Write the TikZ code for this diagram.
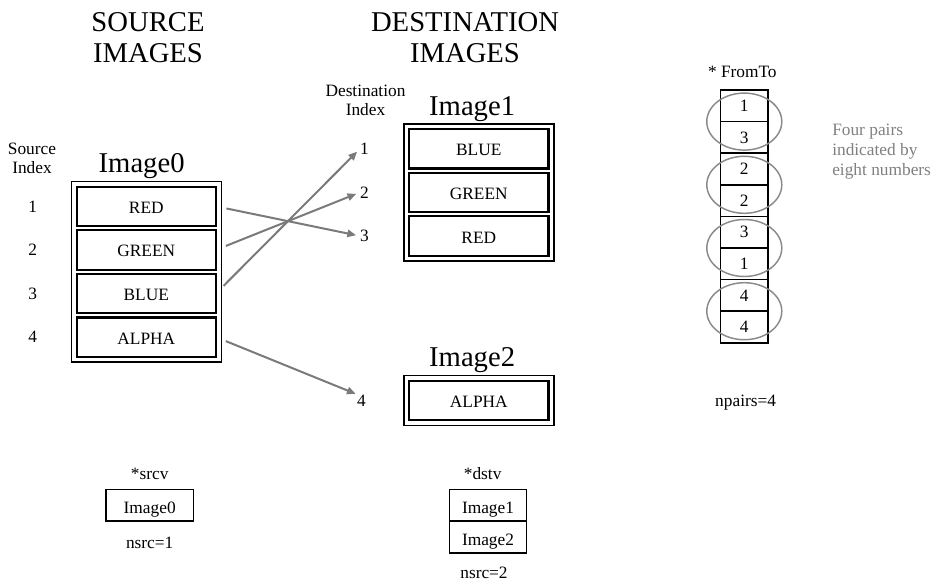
\documentclass[tikz,border=0pt]{standalone}
\usepackage{fontspec}
\setmainfont{Liberation Serif}
\usetikzlibrary{positioning,fit,arrows.meta}
\definecolor{linkgray}{HTML}{7A7A7A}
\definecolor{ringgray}{HTML}{8A8A8A}
\definecolor{notegray}{HTML}{808080}
\newcommand{\txtsize}{\fontsize{13}{15}\selectfont}
\newcommand{\headsize}{\fontsize{21.5}{23.25}\selectfont}

\begin{document}
\begin{tikzpicture}[x=0.75pt, y=-0.75pt, node distance=3.2pt,
  field/.style={draw, line width=1.6pt, minimum width=104.5pt, minimum height=29.5pt, inner sep=0pt, outer sep=0pt, text height=10.5pt, text depth=0pt, font=\txtsize},
  image/.style={draw, line width=1.2pt, inner sep=4pt},
  imgname/.style={inner sep=0pt, font=\headsize},
  title/.style={anchor=north, align=center, inner sep=0pt, font=\headsize},
  idx/.style={inner sep=0pt, font=\txtsize},
  idxhead/.style={anchor=north, align=center, inner sep=0pt, font=\fontsize{13}{14.25}\selectfont},
  cell/.style={draw, line width=1.1pt, minimum width=35.5pt, minimum height=23.7pt, inner sep=0pt, outer sep=0pt, font=\txtsize},
  vec/.style={cell, minimum height=23.8pt, text height=13pt, text depth=0pt},
  pair/.style={draw=ringgray, line width=1.1pt},
  link/.style={draw=linkgray, line width=1.5pt, -{Triangle[length=6.5pt,width=5.5pt]}, shorten <=8pt, shorten >=3pt},
  lbl/.style={inner sep=0pt, font=\txtsize}]
\useasboundingbox (0,0) rectangle (933,582);

% headings
\node[title] (srctitle) at (148,12.5) {SOURCE\\IMAGES};
\node[title] (dsttitle) at (465,12.5) {DESTINATION\\IMAGES};

% source image
\node[field] (red0) at (146.3,206.3) {RED};
\node[field, below=of red0] (green0) {GREEN};
\node[field, below=of green0] (blue0) {BLUE};
\node[field, below=of blue0] (alpha0) {ALPHA};
\node[image, fit=(red0)(alpha0)] (img0) {};
\node[imgname, above=1pt of img0, xshift=-3.5pt] (name0) {Image0};

\node[idxhead] (srchead) at (32,142.5) {Source\\Index};
\node[idx, left=29.5pt of red0] (s1) {1};
\node[idx, left=29.5pt of green0] (s2) {2};
\node[idx, left=29.5pt of blue0] (s3) {3};
\node[idx, left=29.5pt of alpha0] (s4) {4};

% destination images
\node[field] (blue1) at (478.8,148.8) {BLUE};
\node[field, below=of blue1] (green1) {GREEN};
\node[field, below=of green1] (red1) {RED};
\node[image, fit=(blue1)(red1)] (img1) {};
\node[imgname, above=1pt of img1, xshift=-5pt] (name1) {Image1};

\node[field] (alpha2) at (478.8,400.3) {ALPHA};
\node[image, fit=(alpha2)] (img2) {};
\node[imgname, above=1pt of img2, xshift=-5pt] (name2) {Image2};

\node[idxhead] (dsthead) at (365.5,84.5) {Destination\\Index};
\node[idx, left=30pt of blue1] (d1) {1};
\node[idx, left=30pt of green1] (d2) {2};
\node[idx, left=30pt of red1] (d3) {3};
\node[idx, left=32.3pt of alpha2] (d4) {4};

% channel mapping
\draw[link] (red0.east) -- (d3.west);
\draw[link] (green0.east) -- (d2.west);
\draw[link] (blue0.east) -- (d1.west);
\draw[link, shorten >=1pt] (alpha0.east) -- (d4.north west);

% image vectors
\node[vec, minimum width=65.5pt] (srcv) at (149.7,505.2) {Image0};
\node[lbl, above=7pt of srcv] {*srcv};
\node[lbl, below=11.5pt of srcv] {nsrc=1};

\node[vec, minimum width=58pt] (dstv1) at (488,505.2) {Image1};
\node[vec, minimum width=58pt, below=0pt of dstv1] (dstv2) {Image2};
\node[lbl, above=7pt of dstv1, xshift=-4pt] {*dstv};
\node[lbl, below=10.2pt of dstv2, xshift=-3pt] {nsrc=2};

% from-to array
\node[cell] (f1) at (744.3,105.8) {1};
\node[cell, below=0pt of f1] (f2) {3};
\node[cell, below=0pt of f2] (f3) {2};
\node[cell, below=0pt of f3] (f4) {2};
\node[cell, below=0pt of f4] (f5) {3};
\node[cell, below=0pt of f5] (f6) {1};
\node[cell, below=0pt of f6] (f7) {4};
\node[cell, below=0pt of f7] (f8) {4};
\node[lbl, above=9pt of f1, xshift=-1.5pt] {* FromTo};
\node[lbl, below=39pt of f8, xshift=1pt] {npairs=4};

\draw[pair] (f1.south) ellipse [x radius=37.5, y radius=28.5];
\draw[pair] (f3.south) ellipse [x radius=37.5, y radius=28.5];
\draw[pair] (f5.south) ellipse [x radius=37.5, y radius=28.5];
\draw[pair] (f7.south) ellipse [x radius=37.5, y radius=28.5];

\node[anchor=north west, align=left, inner sep=0pt, text=notegray, font=\fontsize{13}{15}\selectfont] (note) at (832,124.2) {Four pairs\\indicated by\\eight numbers};
\end{tikzpicture}
\end{document}
